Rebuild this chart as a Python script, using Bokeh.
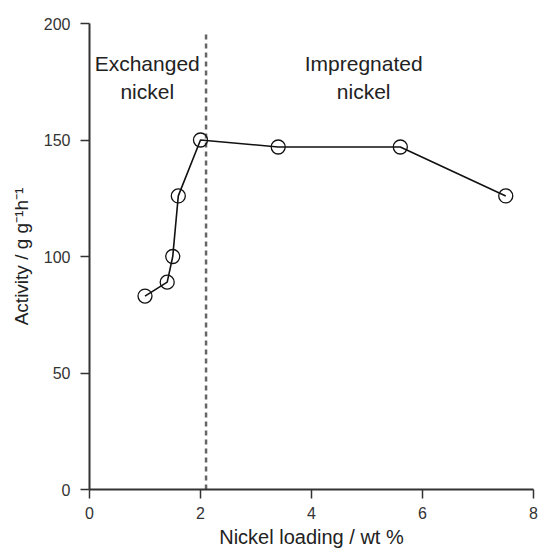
from bokeh.plotting import figure
from bokeh.models import Range1d, Label
from bokeh.embed import file_html
from bokeh.resources import INLINE

loading = [1.0, 1.4, 1.5, 1.6, 2.0, 3.4, 5.6, 7.5]
activity = [83, 89, 100, 126, 150, 147, 147, 126]
boundary_x = 2.1
x_ticks = [0, 2, 4, 6, 8]
y_ticks = [0, 50, 100, 150, 200]

FONT = "Liberation Sans"

p = figure(width=538, height=552, output_backend="svg", toolbar_location=None,
           x_range=Range1d(0, 8), y_range=Range1d(0, 200),
           min_border_left=89, min_border_right=5, min_border_top=23, min_border_bottom=63)
p.outline_line_color = None
p.grid.visible = False

p.segment(x0=[boundary_x], y0=[0], x1=[boundary_x], y1=[196], line_color="#666666",
          line_width=2.5, line_dash="5 4")

p.line(loading, activity, line_color="#111111", line_width=1.6)
p.scatter(loading, activity, marker="circle", size=14, fill_color="white", fill_alpha=0,
          line_color="#111111", line_width=1.3)

for ax in (p.xaxis[0], p.yaxis[0]):
    ax.axis_line_width = 2
    ax.axis_line_color = "#333333"
    ax.major_tick_line_color = "#333333"
    ax.minor_tick_line_color = "#333333"
    ax.major_tick_line_width = 1.5
    ax.minor_tick_line_width = 1.5
    ax.major_tick_out = 9
    ax.major_tick_in = 0
    ax.minor_tick_out = 4
    ax.minor_tick_in = 0
    ax.major_label_text_font = FONT
    ax.major_label_text_font_size = "16px"
    ax.major_label_text_color = "#333333"
    ax.axis_label_text_font = FONT
    ax.axis_label_text_font_size = "20px"
    ax.axis_label_text_font_style = "normal"
    ax.axis_label_text_color = "#222222"

p.yaxis[0].axis_label_text_font_size = "19px"
p.xaxis[0].major_label_standoff = 8
p.yaxis[0].major_label_standoff = 10
p.xaxis[0].axis_label_standoff = 4
p.yaxis[0].axis_label_standoff = 9

p.xaxis.ticker = x_ticks
p.yaxis.ticker = y_ticks
p.xaxis[0].ticker.num_minor_ticks = 2
p.yaxis[0].ticker.num_minor_ticks = 2
p.xaxis.axis_label = "Nickel loading / wt %"
p.yaxis.axis_label = "Activity / g g\u207b\u00b9h\u207b\u00b9"

for txt, x, y in [("Exchanged", 1.04, 183), ("nickel", 1.04, 171),
                  ("Impregnated", 4.94, 183), ("nickel", 4.94, 171)]:
    p.add_layout(Label(x=x, y=y, text=txt, text_align="center", text_baseline="middle",
                       text_font=FONT, text_font_size="21px", text_color="#222222"))

open("out.html", "w").write(file_html(p, INLINE))
